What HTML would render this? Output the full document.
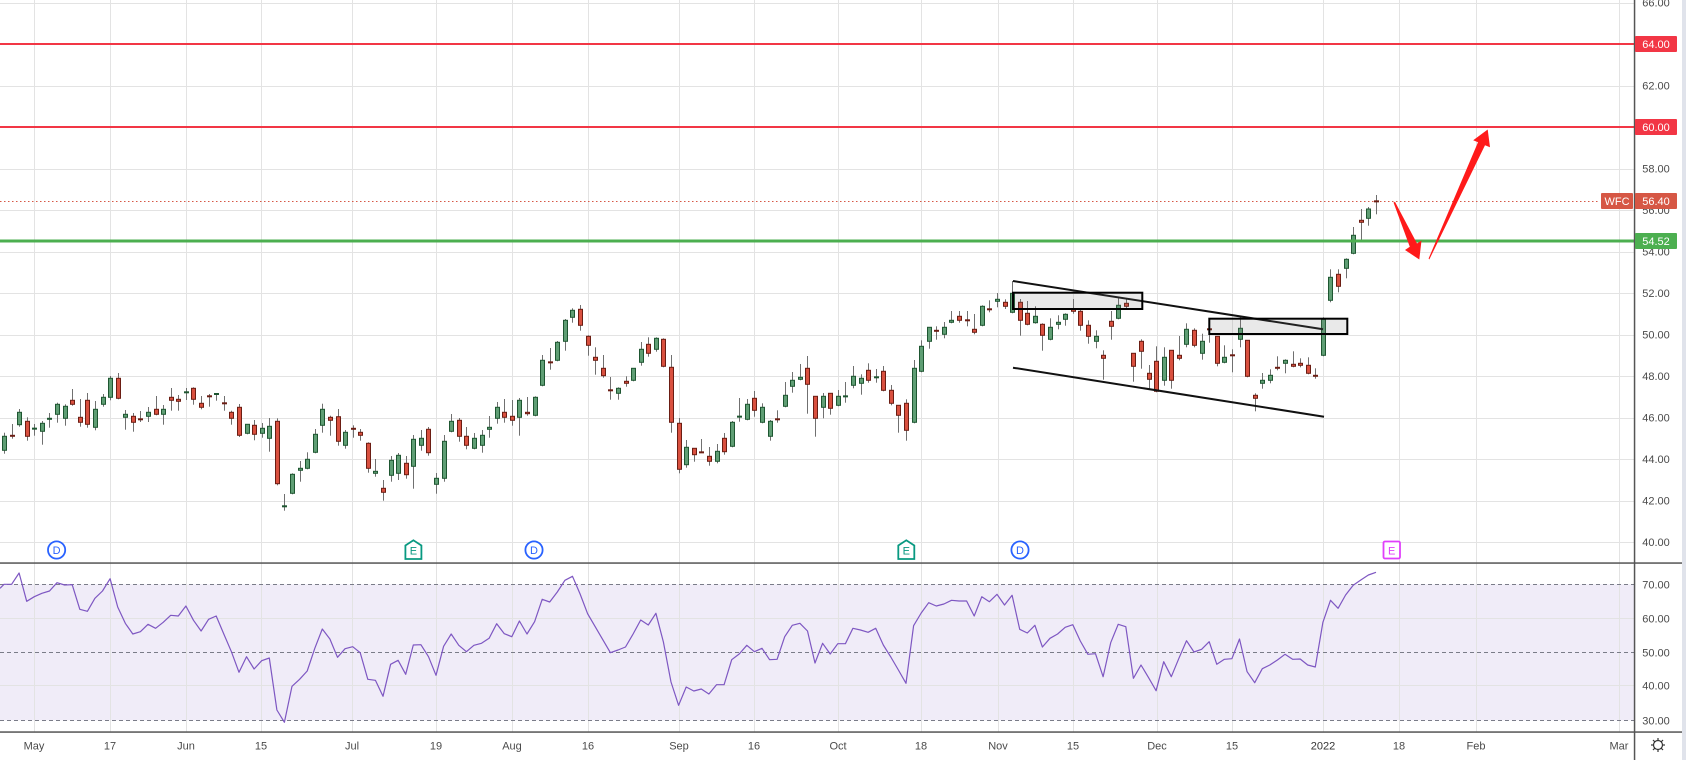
<!DOCTYPE html>
<html><head><meta charset="utf-8">
<style>
html,body{margin:0;padding:0;background:#fff;overflow:hidden;}
svg{display:block;}
text{font-family:"Liberation Sans",Arial,sans-serif;font-size:11px;fill:#4a4a4a;}
</style></head><body>
<svg id="c" width="1686" height="760" viewBox="0 0 1686 760" xmlns="http://www.w3.org/2000/svg">
<rect width="1686" height="760" fill="#fff"/>
<rect x="0" y="584.3" width="1634" height="136" fill="#f0ecf8"/>
<g id="grid" stroke="#e3e3e3" stroke-width="1" shape-rendering="crispEdges"></g>
<g stroke="#7a7c88" stroke-width="1" stroke-dasharray="4,3" shape-rendering="crispEdges">
<line x1="0" x2="1634" y1="584.5" y2="584.5"/>
<line x1="0" x2="1634" y1="652.5" y2="652.5"/>
<line x1="0" x2="1634" y1="720.5" y2="720.5"/>
</g>
<polyline id="rsi" fill="none" stroke="#7e57c2" stroke-width="1.2" stroke-linejoin="round"/>
<line x1="0" x2="1600" y1="201.5" y2="201.5" stroke="#d65745" stroke-width="1" stroke-dasharray="1.5,2.5"/>
<g id="candles"></g>
<rect x="0" y="43" width="1634" height="2" fill="#f23645"/>
<rect x="0" y="126" width="1634" height="2" fill="#f23645"/>
<rect x="0" y="239.5" width="1634" height="3" fill="#4caf50"/>
<line x1="1013" y1="281" x2="1323" y2="329.3" stroke="#111" stroke-width="2"/>
<line x1="1013" y1="367.7" x2="1324" y2="416.7" stroke="#111" stroke-width="2"/>
<rect x="1013" y="292.7" width="129.3" height="16.3" fill="rgba(120,120,120,0.16)" stroke="#000" stroke-width="2"/>
<rect x="1209.3" y="318.7" width="138" height="15.3" fill="rgba(120,120,120,0.16)" stroke="#000" stroke-width="2"/>
<polygon points="1393.5,202.5 1395,201.8 1417,243.5 1421.5,240.5 1419.3,259.5 1405,250 1409.8,246.8" fill="#ff1a1a"/>
<polygon points="1429.3,259.5 1428.6,258.5 1478,142.2 1473.2,140.2 1487.7,129.5 1490,147.3 1485,145.3" fill="#ff1a1a"/>
<g font-size="11">
<circle cx="56.6" cy="550" r="8.6" fill="#fff" stroke="#2962ff" stroke-width="1.8"/>
<text x="56.6" y="554" text-anchor="middle" style="fill:#2962ff">D</text>
<circle cx="534" cy="550" r="8.6" fill="#fff" stroke="#2962ff" stroke-width="1.8"/>
<text x="534" y="554" text-anchor="middle" style="fill:#2962ff">D</text>
<circle cx="1020" cy="550" r="8.6" fill="#fff" stroke="#2962ff" stroke-width="1.8"/>
<text x="1020" y="554" text-anchor="middle" style="fill:#2962ff">D</text>
<path d="M405.4,559 V545.5 L413.4,540.3 L421.4,545.5 V559 Z" fill="#fff" stroke="#089981" stroke-width="1.8"/>
<text x="413.4" y="554.5" text-anchor="middle" style="fill:#089981">E</text>
<path d="M898.3,559 V545.5 L906.3,540.3 L914.3,545.5 V559 Z" fill="#fff" stroke="#089981" stroke-width="1.8"/>
<text x="906.3" y="554.5" text-anchor="middle" style="fill:#089981">E</text>
<rect x="1383.5" y="541.5" width="16.5" height="17" rx="1.5" fill="#fff" stroke="#e040fb" stroke-width="1.8"/>
<text x="1391.7" y="554.5" text-anchor="middle" style="fill:#e040fb">E</text>
</g>
<rect x="0" y="562.3" width="1682" height="1.5" fill="#555"/>
<rect x="0" y="731.3" width="1682" height="1.5" fill="#555"/>
<rect x="1633.8" y="0" width="1.5" height="760" fill="#555"/>
<rect x="1682" y="0" width="4" height="760" fill="#e0e3eb"/>
<g text-anchor="middle">
<text x="1656" y="6.5">66.00</text>
<text x="1656" y="89.5">62.00</text>
<text x="1656" y="172.5">58.00</text>
<text x="1656" y="214">56.00</text>
<text x="1656" y="255.5">54.00</text>
<text x="1656" y="297">52.00</text>
<text x="1656" y="338.5">50.00</text>
<text x="1656" y="380">48.00</text>
<text x="1656" y="421.5">46.00</text>
<text x="1656" y="463">44.00</text>
<text x="1656" y="504.5">42.00</text>
<text x="1656" y="546">40.00</text>
<text x="1656" y="588.3">70.00</text>
<text x="1656" y="622.3">60.00</text>
<text x="1656" y="656.3">50.00</text>
<text x="1656" y="689.7">40.00</text>
<text x="1656" y="724.3">30.00</text>
</g>
<rect x="1635" y="36" width="42" height="16" rx="1" fill="#f23645"/>
<text x="1656" y="48" text-anchor="middle" style="fill:#fff">64.00</text>
<rect x="1635" y="119" width="42" height="16" rx="1" fill="#f23645"/>
<text x="1656" y="131" text-anchor="middle" style="fill:#fff">60.00</text>
<rect x="1601" y="193" width="32" height="16" rx="1" fill="#d65745"/>
<text x="1617" y="205" text-anchor="middle" style="fill:#fff">WFC</text>
<rect x="1635" y="193" width="42" height="16" rx="1" fill="#d65745"/>
<text x="1656" y="205" text-anchor="middle" style="fill:#fff">56.40</text>
<rect x="1635" y="233" width="42" height="16" rx="1" fill="#4caf50"/>
<text x="1656" y="245" text-anchor="middle" style="fill:#fff">54.52</text>
<g text-anchor="middle">
<text x="34" y="749.5">May</text>
<text x="110" y="749.5">17</text>
<text x="186" y="749.5">Jun</text>
<text x="261" y="749.5">15</text>
<text x="352" y="749.5">Jul</text>
<text x="436" y="749.5">19</text>
<text x="512" y="749.5">Aug</text>
<text x="588" y="749.5">16</text>
<text x="679" y="749.5">Sep</text>
<text x="754" y="749.5">16</text>
<text x="838" y="749.5">Oct</text>
<text x="921" y="749.5">18</text>
<text x="998" y="749.5">Nov</text>
<text x="1073" y="749.5">15</text>
<text x="1157" y="749.5">Dec</text>
<text x="1232" y="749.5">15</text>
<text x="1323" y="749.5" style="fill:#333">2022</text>
<text x="1399" y="749.5">18</text>
<text x="1476" y="749.5">Feb</text>
<text x="1619" y="749.5">Mar</text>
</g>
<g stroke="#333" stroke-width="1.2" fill="none">
<circle cx="1658" cy="745" r="4.5"/>
<line x1="1658" y1="738" x2="1658" y2="740.5"/>
<line x1="1658" y1="749.5" x2="1658" y2="752"/>
<line x1="1651" y1="745" x2="1653.5" y2="745"/>
<line x1="1662.5" y1="745" x2="1665" y2="745"/>
<line x1="1653" y1="740" x2="1654.8" y2="741.8"/>
<line x1="1661.2" y1="748.2" x2="1663" y2="750"/>
<line x1="1663" y1="740" x2="1661.2" y2="741.8"/>
<line x1="1654.8" y1="748.2" x2="1653" y2="750"/>
</g>
</svg>
<script>
(function(){
var X0=34.3,S=7.58;
function cx(i){return Math.round(X0+i*S)+0.5;}
var gx=[34.3,110,185.7,261,352.3,436.3,512,587.5,679.3,754.3,838.3,921.3,997.7,1073.3,1157.3,1232.3,1323.3,1399.3,1475.7,1619];
var gy=[2.5,44,85.5,127,168.5,210,251.5,293,334.5,376,417.5,459,500.5,542];
var g='';
gx.forEach(function(x){var X=Math.round(x)+0.5;g+='<line x1="'+X+'" x2="'+X+'" y1="0" y2="732"/>';});
gy.forEach(function(y){var Y=Math.round(y)+0.5;g+='<line x1="0" x2="1634" y1="'+Y+'" y2="'+Y+'"/>';});
[618.5,685.5].forEach(function(Y){g+='<line x1="0" x2="1634" y1="'+Y+'" y2="'+Y+'"/>';});
document.getElementById('grid').innerHTML=g;
var D=[
[-4,1,436.3,451.3,432.7,453.7],[-3,0,435.3,436.3,424,438.7],[-2,1,412.3,425.7,409,426.7],[-1,0,421.3,437.3,417.3,440.7],
[0,1,428,429.3,424,435.7],[1,1,423.3,432.3,421,444.7],[2,1,418.3,419.3,413,427.7],[3,1,404.3,415.3,402.7,422.7],
[4,1,406.3,419.3,404.3,425.7],[5,0,400.3,405.3,389,405.7],[6,0,417.3,423.3,399,426.7],[7,0,400.3,425.3,393,427.7],
[8,1,409.3,428.3,401,430.3],[9,1,397.3,405.3,394,406.7],[10,1,378.3,398.3,376,400.3],[11,0,378.3,399.3,373,399.3],
[12,1,414.3,418.3,410,429.7],[13,0,416.3,423.3,413,431.7],[14,0,418.3,420.3,411,422],[15,1,412.3,417.3,407,422],
[16,0,409.3,415.3,396,415.3],[17,1,409.3,415.3,405,424.7],[18,0,397.3,401.3,388,410.7],[19,0,399.3,402.3,395,410.7],
[20,1,391.3,393.3,388,400],[21,0,388.3,400.3,387.3,404.7],[22,0,403.3,408.3,396,409.3],[23,0,395.3,397.3,394,406.7],
[24,1,393.7,394.3,393.3,400.7],[25,0,402.3,404.3,396,410.7],[26,0,412.3,419.3,410.7,424.7],[27,0,407.3,436.3,404,437],
[28,1,424.3,434.3,424.3,434.3],[29,0,425.3,435.3,420,440.3],[30,1,428.3,434.3,423,437.7],[31,1,426.3,439.3,418,451.7],
[32,0,421.3,484.7,418.3,485.3],[33,1,505.3,507.3,494,510.7],[34,1,474.3,494.3,473.3,494.3],[35,1,468.3,471.3,461,481.7],
[36,1,459.3,469.3,452.3,469.3],[37,1,434.3,453.3,429,453.3],[38,1,409.3,426.3,403.7,432.7],[39,0,417.3,421.3,415.7,435.7],
[40,0,416.7,442.3,409,445.7],[41,1,432.3,446.3,430,448.7],[42,0,428.3,429.3,425.3,437.7],[43,0,432.3,436.3,429,440.7],
[44,0,443.3,469.3,442.3,472.7],[45,1,471.3,474.3,459,476.7],[46,0,488.3,493.3,480,500.7],[47,1,460.3,476.3,456,481.7],
[48,1,455.3,474.3,453,480],[49,0,463.3,475.7,456,478.7],[50,1,439.3,467.3,435,488.7],[51,1,438.3,446.3,430,450.7],
[52,0,429.3,453.7,427,455.7],[53,1,478.3,485.3,473,493.7],[54,1,441.3,479.3,435,481.7],[55,1,421.3,432.3,414,432.3],
[56,0,420.3,437.3,418,441.7],[57,0,436.3,446.3,427,449.3],[58,1,438.3,449.3,433,449.3],[59,1,435.3,446.3,430,452.7],
[60,1,427.3,430.3,416,437.7],[61,1,407.3,419.3,402,423.7],[62,0,412.3,418.3,399,422.7],[63,0,416.3,421.3,400,425.7],
[64,1,400.3,418.3,398,435.7],[65,0,412.3,414.7,397,415.7],[66,1,397.3,416.3,396.3,416.3],[67,1,360.3,386.3,355,386.3],
[68,0,362,362.7,348,369.7],[69,1,342.3,361.3,341,361.3],[70,1,320.3,342.3,319,350.7],[71,1,310.3,318.3,308.3,322.7],
[72,0,309.3,326.3,305,330.7],[73,0,336.3,346.3,335.3,355.7],[74,0,357.3,361.3,347.3,374.7],[75,0,368.3,376.7,355,377.7],
[76,0,389.3,391.3,377,399.7],[77,1,388.3,394.3,387.3,399.7],[78,0,381.3,384.3,376.3,386.7],[79,1,368.3,381.3,368.3,381.3],
[80,1,349.3,363.3,342,365.7],[81,0,344.3,354.3,337.3,356.7],[82,1,338.3,350.3,337.3,351.7],[83,0,339.3,367.3,338.3,367.3],
[84,0,367.3,423.3,355,432.7],[85,0,423.3,470.3,418,473.3],[86,1,447.3,465.7,440,467.7],[87,0,448.3,455.7,448.3,461.7],
[88,0,452,452.7,439,452.7],[89,0,456.3,462.3,447,465.7],[90,1,451.3,462.3,444,463.3],[91,0,438.3,452.7,433,454.7],
[92,1,422.3,447.3,421,447.3],[93,1,416,417.3,398,421.7],[94,1,404.3,420.3,399,420.3],[95,0,398.3,411.3,391,416.7],
[96,1,407.3,423.3,403.3,423.3],[97,1,421.3,437.3,420,440.7],[98,0,418.3,420.3,410.3,422.7],[99,1,395.3,407.3,382,407.3],
[100,1,380.3,387.3,372,392.7],[101,1,377.3,380.3,364,380.3],[102,0,368.3,385.3,356,413.7],[103,0,396.3,419.3,396.3,436.7],
[104,1,396.3,408.3,393,418.3],[105,0,393.3,409.3,393.3,414.7],[106,1,396.3,406.3,390,406.3],[107,1,396,396.7,382,402.7],
[108,1,376.3,386.3,366,388.3],[109,1,378.3,384.3,374.3,394.7],[110,0,370.3,381.3,363.3,382.7],[111,1,376.3,378.3,369,382.7],
[112,0,371.3,391.3,366,391.3],[113,0,390.3,404.3,385,405.3],[114,0,405.3,416.3,405.3,432.7],[115,0,403.3,431.3,399.3,440.7],
[116,1,368.3,423.3,360,423.3],[117,1,346.3,372.3,340.3,372.3],[118,1,327.3,342.3,327.3,348.7],[119,0,330.3,331.3,326.3,339.7],
[120,1,327.3,335.3,322,338.3],[121,1,320.3,323.3,311,323.3],[122,0,316.3,321.3,311,322.7],[123,0,319.3,321.3,311,326.3],
[124,0,329.3,333.3,314,334.3],[125,1,306.3,326.3,305.3,326.3],[126,0,308.3,310.3,300.3,312.3],[127,1,299.3,302.3,293,307.3],
[128,0,302.3,307.3,299.3,309],[129,1,293.3,313.3,281,313.3],[130,0,302.3,321.3,299,335.7],[131,0,313.3,325.3,301,325.3],
[132,1,316.3,323.7,306.3,323.7],[133,0,324.3,336.3,323.3,350.7],[134,1,327.3,340.3,318.3,340.3],[135,1,322.3,325.3,315.3,329.3],
[136,1,314.3,320.3,313.3,325.7],[137,0,309.3,312.3,299,313.7],[138,0,311.3,326.3,309.3,330.7],[139,0,325.3,337.3,320.3,343.7],
[140,1,336.3,342.3,330.3,348.3],[141,0,355.3,359.3,350.3,379.7],[142,0,321.3,327.3,311,339.7],[143,1,305.3,319.3,298.3,319.3],
[144,0,303.3,307.3,298.3,310],[145,0,353.3,367.3,353.3,381.7],[146,0,341.3,352.3,339.3,368.7],[147,0,373.3,380.3,365,389.7],
[148,0,361.3,392.3,346.3,392.3],[149,1,357.3,381.3,347.3,385.7],[150,0,350.3,381.3,350.3,388.7],[151,0,355.3,359.3,336,360.3],
[152,1,329.3,345.3,323.3,347.3],[153,0,330.3,346.3,328.3,347.3],[154,1,341.3,354.3,333.7,359.7],[155,0,328.3,330.3,321.7,342.7],
[156,0,336.3,364.3,336.3,366.3],[157,1,357.3,363.3,345.3,363.3],[158,0,354.3,356.3,349.3,372.3],[159,1,328.3,340.3,317.3,347.3],
[160,0,340.3,377.3,340.3,377.3],[161,0,395.3,399.3,393.3,411.3],[162,1,380.3,384.3,373,388.7],[163,1,375.3,381.3,369.3,383.3],
[164,0,367.3,368.3,356.3,370.3],[165,1,360.3,364.3,359.3,373.3],[166,0,364.3,367.3,351.3,367.3],[167,0,363.3,366.3,358.3,367.3],
[168,0,365.3,374.3,357.3,374.3],[169,0,375.3,376.3,368.3,378.7],[170,1,319.3,356.3,317.3,356.3],[171,1,277.3,301.3,269.3,302.3],
[172,0,274.3,287.3,269.3,292.3],[173,1,259.3,269.3,258.3,278.3],[174,1,235.3,254.3,227,254.3],[175,0,220.3,223.3,209,240.7],
[176,1,209,219.3,207,225.7],[177,0,201,201.7,195,214.3]
];
var s='';
D.forEach(function(d){
 var x=cx(d[0]),c=d[1],bt=d[2],bb=d[3],wt=d[4],wb=d[5];
 var fill=c?'#5f9e74':'#d9503f',st=c?'#1e5631':'#6b1d13';
 s+='<rect x="'+(x-0.5)+'" y="'+wt+'" width="1" height="'+(wb-wt)+'" fill="#707070"/>';
 var h=bb-bt;
 if(h<2.2){s+='<rect x="'+(x-2.5)+'" y="'+((bt+bb)/2-1)+'" width="5" height="2" fill="'+st+'"/>';}
 else{s+='<rect x="'+(x-2)+'" y="'+bt+'" width="4" height="'+(h-1)+'" fill="'+fill+'" stroke="'+st+'" stroke-width="1"/>';}
});
document.getElementById('candles').innerHTML=s;
var R=[148,148,114,199,185,175,168,143,150,149,223,229,190,168,131,216,265,297,290,268,280,262,241,243,213,256,288,253,243,297,350,412,365,402,377,369,525,562,454,433,408,340,282,312,367,341,335,353,433,436,484,388,376,418,330,329,365,421,334,297,331,350,331,325,310,266,296,305,258,297,260,193,201,171,136,124,177,236,275,314,353,345,336,297,255,270,235,321,441,511,456,468,462,477,449,449,374,357,331,350,340,374,373,305,271,265,288,384,325,357,326,326,280,285,292,280,330,366,405,445,272,234,203,213,207,196,198,198,243,185,200,178,210,181,283,294,271,336,310,297,277,269,318,358,356,425,323,268,275,430,390,428,467,380,425,370,317,351,343,320,388,373,371,312,410,443,401,390,375,358,373,372,390,396,262,196,220,180,151,135,120,112];
var p='0,'+(535+160/3).toFixed(1);
R.forEach(function(v,k){var i=k-4;p+=' '+(X0+i*S).toFixed(1)+','+(535+v/3).toFixed(1);});
document.getElementById('rsi').setAttribute('points',p);
})();
</script>
</body></html>
